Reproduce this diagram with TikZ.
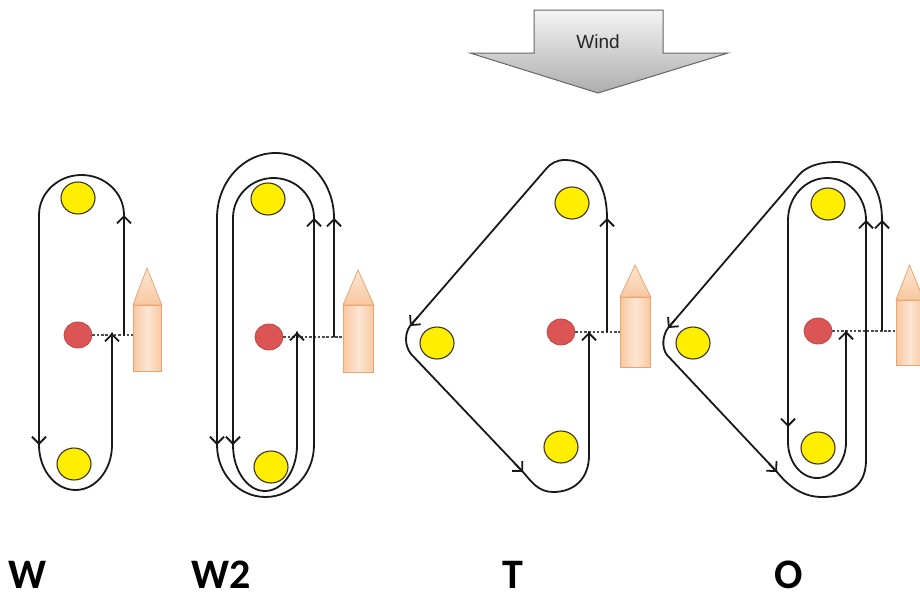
\documentclass[tikz,border=0pt]{standalone}
\usepackage{fontspec}
\usetikzlibrary{arrows.meta,shapes.geometric}
\newfontfamily\lblfont{Carlito}
\newfontfamily\windfont{Liberation Sans}
\definecolor{trailc}{RGB}{25,25,25}
\definecolor{yelf}{RGB}{255,238,0}
\definecolor{yeld}{RGB}{60,52,25}
\definecolor{redf}{RGB}{220,85,85}
\definecolor{redd}{RGB}{190,70,70}
\definecolor{peach}{RGB}{248,200,160}
\definecolor{peachl}{RGB}{252,230,212}
\definecolor{peachd}{RGB}{232,165,115}
\tikzset{
  trail/.style={draw=trailc, line width=1.8pt, line join=round, line cap=round},
  tipst/.style={draw=trailc, line width=1.8pt, -{Straight Barb[length=7pt,width=14pt,line width=1.8pt]}},
  yel/.style={ellipse, draw=yeld, line width=1.1pt, fill=yelf, minimum width=34pt, minimum height=32pt, inner sep=0pt},
  redb/.style={ellipse, draw=redd, line width=0.8pt, fill=redf, minimum width=28pt, minimum height=26pt, inner sep=0pt},
  hull/.style={draw=peachd, line width=0.8pt, left color=peach, right color=peach, middle color=peachl, inner sep=0pt, anchor=north west},
  bow/.style={draw=peachd, line width=0.8pt, top color=peachl, bottom color=peach},
  dashl/.style={draw=black!70, line width=1.2pt, dash pattern=on 2.5pt off 1.8pt},
  lbl/.style={font=\lblfont\bfseries\fontsize{42}{42}\selectfont, anchor=base, inner sep=0pt},
  windst/.style={draw=black!60, line width=1pt, top color=black!4, bottom color=black!32}
}
\begin{document}
\begin{tikzpicture}[x=1pt,y=-1pt]
\useasboundingbox (0,0) rectangle (920,597);
\fill[white] (0,0) rectangle (920,597);

% wind arrow
\path[windst] (534,10) -- (663,10) -- (663,53) -- (728,53) -- (598,93) -- (470,53) -- (534,53) -- cycle;
\node[font=\windfont\fontsize{19}{19}\selectfont, text=black!85, inner sep=0pt] (wind) at (598,42) {Wind};

% ---------- W ----------
\node[yel] (wy1) at (78,198) {};
\node[yel] (wy2) at (74,464) {};
\node[redb] (wr) at (78,335) {};
\node[hull, minimum width=28pt, minimum height=66pt] (wboat) at (133,305) {};
\path[bow] (wboat.north west) -- ++(14,-37) -- (wboat.north east) -- cycle;
\draw[dashl] (wr.east) -- (wr.east -| wboat.west);
\draw[trail] (124,335) -- (124,215) arc[start angle=0,end angle=-180,x radius=42.5,y radius=40]
  -- (39,445) arc[start angle=180,end angle=0,x radius=36.5,y radius=45] -- (112,333);
\draw[tipst] (124,227) -- (124,215);
\draw[tipst] (39,433) -- (39,445);
\draw[tipst] (112,345) -- (112,333);

% ---------- W2 ----------
\node[yel] (w2y1) at (268,199) {};
\node[yel] (w2y2) at (271,467) {};
\node[redb] (w2r) at (269,337) {};
\node[hull, minimum width=30pt, minimum height=67pt] (w2boat) at (343,305) {};
\path[bow] (w2boat.north west) -- ++(15,-35) -- (w2boat.north east) -- cycle;
\draw[dashl] (w2r.east) -- (w2r.east -| w2boat.west);
\draw[trail] (334,337) -- (334,218) arc[start angle=0,end angle=-180,x radius=58.5,y radius=65]
  -- (217,445) arc[start angle=180,end angle=0,x radius=48.5,y radius=52]
  -- (314,218) arc[start angle=0,end angle=-180,x radius=40.5,y radius=40]
  -- (233,445) arc[start angle=180,end angle=0,x radius=32,y radius=46] -- (297,332);
\draw[tipst] (334,230) -- (334,218);
\draw[tipst] (314,230) -- (314,218);
\draw[tipst] (217,433) -- (217,445);
\draw[tipst] (233,433) -- (233,445);
\draw[tipst] (297,344) -- (297,332);

% ---------- T ----------
\node[yel] (ty1) at (572,203) {};
\node[yel] (ty2) at (437,343) {};
\node[yel] (ty3) at (561,447) {};
\node[redb] (tr) at (561,332) {};
\node[hull, minimum width=30pt, minimum height=70pt] (tboat) at (620,297) {};
\path[bow] (tboat.north west) -- ++(15,-32) -- (tboat.north east) -- cycle;
\draw[dashl] (tr.east) -- (tr.east -| tboat.west);
\draw[trail] (607,332) -- (607,218) .. controls (607,180) and (588,160) .. (565,160)
  .. controls (557,160) and (551,163) .. (546,169) -- (410,326)
  .. controls (405,333) and (404,345) .. (411,354) -- (523,472)
  .. controls (531,481) and (538,492) .. (553,492)
  .. controls (575,492) and (589,478) .. (589,455) -- (589,332);
\draw[tipst] (417.8,316.9) -- (410,326);
\draw[tipst] (607,230) -- (607,218);
\draw[tipst] (514.7,463.3) -- (523,472);
\draw[tipst] (589,344) -- (589,332);

% ---------- O ----------
\node[yel] (oy1) at (828,204) {};
\node[yel] (oy2) at (693,343) {};
\node[yel] (oy3) at (818,448) {};
\node[redb] (or) at (818,331) {};
\node[hull, minimum width=27pt, minimum height=65pt] (oboat) at (896,300) {};
\path[bow] (oboat.north west) -- ++(13.5,-35) -- (oboat.north east) -- cycle;
\draw[dashl] (or.east) -- (or.east -| oboat.west);
\draw[trail] (882,331) -- (882,220) .. controls (882,182) and (860,162) .. (837,162)
  .. controls (820,162) and (806,166) .. (798,176) -- (668,328)
  .. controls (663,335) and (661,347) .. (667,355) -- (777,472)
  .. controls (786,483) and (800,497) .. (822,497)
  .. controls (850,497) and (866,485) .. (866,460) -- (866,220)
  arc[start angle=0,end angle=-180,x radius=39,y radius=42]
  -- (788,442) arc[start angle=180,end angle=0,x radius=29,y radius=36] -- (846,331);
\draw[tipst] (882,232) -- (882,220);
\draw[tipst] (675.8,318.9) -- (668,328);
\draw[tipst] (768.8,463.2) -- (777,472);
\draw[tipst] (866,232) -- (866,220);
\draw[tipst] (788,415) -- (788,427);
\draw[tipst] (846,343) -- (846,331);

% labels
\node[lbl] (lw) at (27.5,588) {W};
\node[lbl] (lw2) at (221.5,588) {W2};
\node[lbl] (lt) at (513,588) {T};
\node[lbl] (lo) at (788.5,588) {O};
\end{tikzpicture}
\end{document}
